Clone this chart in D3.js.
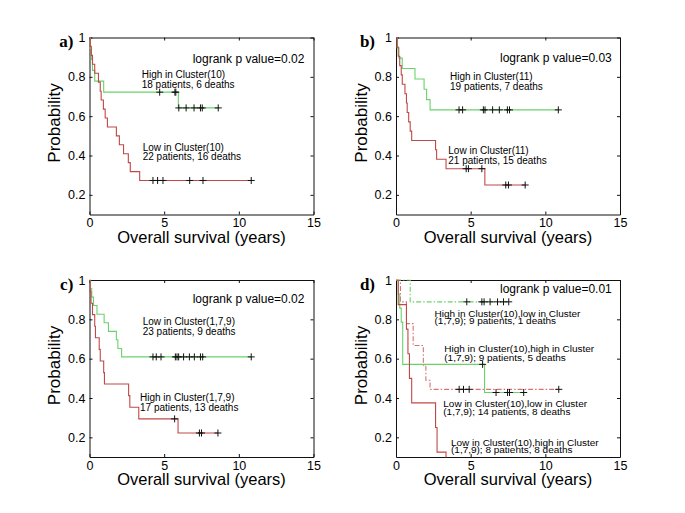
<!DOCTYPE html>
<html><head><meta charset="utf-8">
<script src="https://cdn.jsdelivr.net/npm/d3@7"></script>
<style>body{margin:0;background:#fff} svg{display:block}</style>
</head><body><svg id="chart" width="685" height="513"></svg>
<script>
// ---------- data ----------
const xTicks = [0, 5, 10, 15];
const xTickLabels = ["0", "5", "10", "15"];
const yTicks = [0.2, 0.4, 0.6, 0.8, 1];
const yTickLabels = ["0.2", "0.4", "0.6", "0.8", "1"];
const panelLetters = ["a)", "b)", "c)", "d)"];
const pValueTexts = ["logrank p value=0.02", "logrank p value=0.03", "logrank p value=0.02", "logrank p value=0.01"];
const xLabel = "Overall survival (years)";
const yLabel = "Probability";

// panel a
const aHighTimes = [0.05, 0.12, 0.2, 0.35, 0.95, 5.95];
const aHighSurv = [0.944, 0.889, 0.833, 0.778, 0.722, 0.642];
const aHighCensor = [4.7, 5.72, 5.78, 5.98, 6.47, 7.0, 7.43, 7.55, 8.62];
const aLowTimes = [0.05, 0.12, 0.2, 0.35, 0.6, 0.72, 0.78, 0.93, 1.05, 1.2, 1.8, 2.0, 2.28, 2.6, 2.73, 3.36];
const aLowSurv = [0.955, 0.909, 0.864, 0.818, 0.773, 0.727, 0.682, 0.636, 0.591, 0.545, 0.5, 0.455, 0.409, 0.364, 0.318, 0.273];
const aLowCensor = [4.25, 4.56, 4.92, 6.71, 7.6, 10.83];
const aTexts = ["High in Cluster(10)", "18 patients, 6 deaths", "Low in Cluster(10)", "22 patients, 16 deaths"];

// panel b
const bHighTimes = [0.08, 0.2, 0.42, 1.27, 1.88, 2.05, 2.28];
const bHighSurv = [0.947, 0.895, 0.842, 0.789, 0.737, 0.684, 0.632];
const bHighCensor = [4.22, 4.46, 5.85, 5.96, 6.47, 6.92, 7.46, 7.6, 10.87];
const bLowTimes = [0.08, 0.15, 0.25, 0.35, 0.42, 0.6, 0.7, 0.75, 0.85, 0.95, 1.05, 2.65, 2.72, 3.35, 5.95];
const bLowSurv = [0.952, 0.905, 0.857, 0.81, 0.762, 0.714, 0.667, 0.619, 0.571, 0.524, 0.476, 0.429, 0.381, 0.333, 0.25];
const bLowCensor = [4.7, 4.85, 5.75, 7.35, 7.53, 8.65];
const bTexts = ["High in Cluster(11)", "19 patients, 7 deaths", "Low in Cluster(11)", "21 patients, 15 deaths"];

// panel c
const cLowTimes = [0.07, 0.15, 0.27, 0.5, 0.98, 1.27, 1.8, 1.9, 2.15];
const cLowSurv = [0.957, 0.913, 0.87, 0.826, 0.783, 0.739, 0.696, 0.652, 0.609];
const cLowCensor = [4.25, 4.47, 4.79, 5.75, 5.86, 5.97, 6.3, 6.69, 7.02, 7.43, 7.58, 10.83];
const cHighTimes = [0.05, 0.1, 0.2, 0.35, 0.4, 0.65, 0.72, 0.95, 1.0, 2.62, 2.7, 3.3, 5.93];
const cHighSurv = [0.941, 0.882, 0.824, 0.765, 0.706, 0.647, 0.588, 0.529, 0.471, 0.412, 0.353, 0.294, 0.222];
const cHighCensor = [5.7, 7.36, 7.5, 8.6];
const cTexts = ["Low in Cluster(1,7,9)", "23 patients, 9 deaths", "High in Cluster(1,7,9)", "17 patients, 13 deaths"];

// panel d
const dHLTimes = [0.95];
const dHLSurv = [0.889];
const dHLCensor = [4.74, 5.75, 5.9, 6.3, 6.8, 7.2, 7.55];
const dHHTimes = [0.3, 0.7, 1.15, 1.83, 2.0, 2.28];
const dHHSurv = [0.889, 0.778, 0.667, 0.567, 0.49, 0.444];
const dHHCensor = [4.23, 4.52, 4.9, 10.9];
const dLLTimes = [0.15, 0.25, 0.35, 0.45, 5.93];
const dLLSurv = [0.929, 0.857, 0.786, 0.571, 0.428];
const dLLCensor = [5.8, 6.7, 7.47, 7.6, 8.55];
const dLHTimes = [0.15, 0.7, 0.8, 0.9, 1.05, 2.65, 2.75, 3.35];
const dLHSurv = [0.875, 0.75, 0.625, 0.5, 0.375, 0.25, 0.125, 0];
const dLHCensor = [];
const dTexts = ["High in Cluster(10),low in Cluster", "(1,7,9); 9 patients, 1 deaths",
  "High in Cluster(10),high in Cluster", "(1,7,9); 9 patients, 5 deaths",
  "Low in Cluster(10),low in Cluster", "(1,7,9); 14 patients, 8 deaths",
  "Low in Cluster(10),high in Cluster", "(1,7,9); 8 patients, 8 deaths"];

// ---------- styling / layout ----------
const GREEN = "#6ad26a", RED = "#c04848", PINK = "#d87272";
const SANS = "'Liberation Sans', Arial, sans-serif";
const W = 224, H = 177;
const layout = [{left: 89.5, top: 37.5}, {left: 396, top: 37.5}, {left: 89.5, top: 280}, {left: 396, top: 280}];
const letterRight = [-16.2, -21, -16.2, -21];

const panels = [
  {curves: [
    {t: aHighTimes, s: aHighSurv, c: aHighCensor, color: GREEN},
    {t: aLowTimes, s: aLowSurv, c: aLowCensor, color: RED}],
   notes: [[aTexts[0], 52.2, 40.8], [aTexts[1], 52.2, 50.2], [aTexts[2], 53.2, 113.2], [aTexts[3], 53.2, 122.6]],
   pv: [103.2, 25.2], squash: 1},
  {curves: [
    {t: bHighTimes, s: bHighSurv, c: bHighCensor, color: GREEN},
    {t: bLowTimes, s: bLowSurv, c: bLowCensor, color: RED}],
   notes: [[bTexts[0], 54, 42.5], [bTexts[1], 54, 52.3], [bTexts[2], 52.3, 116.5], [bTexts[3], 52.3, 126.3]],
   pv: [104, 24.8], squash: 1},
  {curves: [
    {t: cLowTimes, s: cLowSurv, c: cLowCensor, color: GREEN},
    {t: cHighTimes, s: cHighSurv, c: cHighCensor, color: RED}],
   notes: [[cTexts[0], 53.2, 45], [cTexts[1], 53.2, 55], [cTexts[2], 50.5, 120.7], [cTexts[3], 50.5, 131.2]],
   pv: [103.2, 22.7], squash: 1},
  {curves: [
    {t: dHLTimes, s: dHLSurv, c: dHLCensor, color: GREEN, dash: "5,2,1.5,2"},
    {t: dHHTimes, s: dHHSurv, c: dHHCensor, color: PINK, dash: "5,2,1.5,2"},
    {t: dLLTimes, s: dLLSurv, c: dLLCensor, color: GREEN},
    {t: dLHTimes, s: dLHSurv, c: dLHCensor, color: RED}],
   notes: [[dTexts[0], 38.5, 36.7], [dTexts[1], 38.5, 44.2], [dTexts[2], 48.3, 72.3], [dTexts[3], 48.3, 80.5],
           [dTexts[4], 47.3, 127], [dTexts[5], 47.3, 134.5], [dTexts[6], 55, 165.7], [dTexts[7], 55, 172.5]],
   pv: [104, 12.7], squash: 0.85}
];

const svg = d3.select("#chart");
svg.append("rect").attr("width", 685).attr("height", 513).attr("fill", "#fff");

function survAt(times, surv, t) {
  let s = 1;
  for (let i = 0; i < times.length; i++) if (times[i] <= t) s = surv[i];
  return s;
}

panels.forEach((p, i) => {
  const L = layout[i];
  const g = svg.append("g").attr("transform", `translate(${L.left},${L.top})`);
  const x = d3.scaleLinear().domain([0, 15]).range([0, W]);
  const y = d3.scaleLinear().domain([0.1, 1]).range([H, 0]);

  g.append("clipPath").attr("id", "clip" + i).append("rect")
    .attr("x", -0.5).attr("y", -0.5).attr("width", W + 1).attr("height", H + 1);

  // axes (box with inward ticks)
  const axB = g.append("g").attr("transform", `translate(0,${H})`)
    .call(d3.axisBottom(x).tickValues(xTicks).tickFormat((d, k) => xTickLabels[k]).tickSizeInner(-3).tickSizeOuter(0).tickPadding(3.8));
  const axT = g.append("g")
    .call(d3.axisTop(x).tickValues(xTicks).tickFormat("").tickSizeInner(-3).tickSizeOuter(0));
  const axL = g.append("g")
    .call(d3.axisLeft(y).tickValues(yTicks).tickFormat((d, k) => yTickLabels[k]).tickSizeInner(-3).tickSizeOuter(0).tickPadding(4));
  const axR = g.append("g").attr("transform", `translate(${W},0)`)
    .call(d3.axisRight(y).tickValues(yTicks).tickFormat("").tickSizeInner(-3).tickSizeOuter(0));
  [axB, axT, axL, axR].forEach(a => {
    a.attr("font-family", SANS).attr("font-size", 12.5);
    a.selectAll("path,line").attr("stroke", "#111").attr("stroke-width", 1);
    a.selectAll("text").attr("fill", "#000");
  });

  // curves
  const line = d3.line().x(d => x(d[0])).y(d => y(d[1])).curve(d3.curveStepAfter);
  const cg = g.append("g").attr("clip-path", `url(#clip${i})`);
  p.curves.forEach(cv => {
    const end = Math.max(cv.t[cv.t.length - 1], ...(cv.c.length ? cv.c : [0]));
    const pts = [[0, 1]].concat(cv.t.map((t, j) => [t, cv.s[j]]));
    pts.push([end, cv.s[cv.s.length - 1]]);
    cg.append("path").attr("d", line(pts)).attr("fill", "none")
      .attr("stroke", cv.color).attr("stroke-width", 1.1)
      .attr("stroke-dasharray", cv.dash || null);
  });
  // censor marks
  p.curves.forEach(cv => {
    cv.c.forEach(ct => {
      const cx = x(ct), cy = y(survAt(cv.t, cv.s, ct));
      cg.append("path").attr("d", `M${cx - 3.5},${cy}h7M${cx},${cy - 3.5}v7`)
        .attr("stroke", "#111").attr("stroke-width", 1).attr("fill", "none");
    });
  });

  // annotations
  g.append("text").attr("x", p.pv[0]).attr("y", p.pv[1]).text(pValueTexts[i])
    .attr("font-family", SANS).attr("font-size", 12).attr("fill", "#000");
  p.notes.forEach(n => {
    g.append("text").attr("transform", `translate(${n[1]},${n[2]}) scale(1,${p.squash})`)
      .text(n[0]).attr("font-family", SANS).attr("font-size", 10).attr("fill", "#000");
  });

  // axis labels
  g.append("text").attr("x", W / 2).attr("y", 205).attr("text-anchor", "middle")
    .attr("font-family", SANS).attr("font-size", 16.5).attr("fill", "#000").text(xLabel);
  g.append("text").attr("transform", `translate(-29.5,${H / 2 - 3}) rotate(-90)`).attr("text-anchor", "middle")
    .attr("font-family", SANS).attr("font-size", 17).attr("fill", "#000").text(yLabel);
  // panel letter
  g.append("text").attr("x", letterRight[i]).attr("y", 9.5).attr("text-anchor", "end")
    .attr("font-family", "'Liberation Serif', 'Times New Roman', serif").attr("font-weight", "bold")
    .attr("font-size", 17).attr("fill", "#000").text(panelLetters[i]);
});
</script>
</body></html>
